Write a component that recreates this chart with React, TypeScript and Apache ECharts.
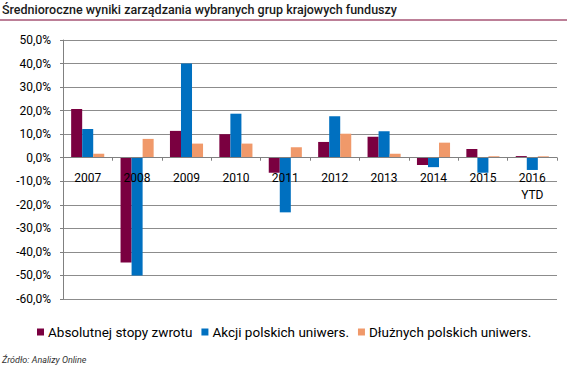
import React, { useEffect, useRef } from "react";
import * as echarts from "echarts";

const categories = ["2007", "2008", "2009", "2010", "2011", "2012", "2013", "2014", "2015", "2016\nYTD"];
const absolutnej = [20.7, -44.5, 11.4, 10.0, -6.4, 6.7, 8.9, -3.1, 3.7, 0.7];
const akcji = [12.2, -50.0, 40.0, 18.7, -23.2, 17.6, 11.2, -4.0, -6.4, -5.2];
const dluznych = [1.7, 8.0, 6.0, 6.0, 4.5, 10.2, 1.7, 6.4, 0.6, 0.6];
const seriesNames = ["Absolutnej stopy zwrotu", "Akcji polskich uniwers.", "Dłużnych polskich uniwers."];
const colors = ["#7a0040", "#0070c0", "#f0996a"];
const Y_MIN = -60;
const Y_MAX = 50;

const FONT = "Roboto";
const GRID_TOP = 40;
const GRID_BOTTOM = 67;
const H = 366;

export default function App() {
  const ref = useRef<HTMLDivElement>(null);
  useEffect(() => {
    const chart = echarts.init(ref.current!, null, { renderer: "svg" });
    const data = [absolutnej, akcji, dluznych];
    const gridH = H - GRID_TOP - GRID_BOTTOM;
    const zeroOffset = -gridH * (0 - Y_MIN) / (Y_MAX - Y_MIN);
    chart.setOption({
      animation: false,
      textStyle: { fontFamily: FONT },
      graphic: [
        {
          type: "text",
          left: 2,
          top: 3,
          style: {
            text: "Średnioroczne wyniki zarządzania wybranych grup krajowych funduszy",
            fontFamily: FONT,
            fontSize: 12.5,
            fontWeight: 500,
            fill: "#1a1a1a",
          },
        },
        {
          type: "line",
          shape: { x1: 0, y1: 20, x2: 567, y2: 20 },
          style: { stroke: "#7a0030", lineWidth: 1 },
        },
        {
          type: "text",
          left: 2,
          top: 355,
          style: {
            text: "Źródło: Analizy Online",
            fontFamily: FONT,
            fontSize: 9,
            fontStyle: "italic",
            fill: "#333",
          },
        },
      ],
      legend: {
        left: 32,
        top: 320,
        itemWidth: 7,
        itemHeight: 7,
        itemGap: 9,
        icon: "rect",
        textStyle: { fontFamily: FONT, fontSize: 13.5, color: "#000", padding: [0, 0, 0, -1] },
        data: seriesNames,
      },
      grid: { left: 63, right: 10, top: GRID_TOP, bottom: GRID_BOTTOM, containLabel: false },
      xAxis: {
        type: "category",
        data: categories,
        position: "bottom",
        offset: zeroOffset,
        z: 10,
        axisLine: { onZero: false, lineStyle: { color: "#808080", width: 1 } },
        axisTick: { show: true, length: 3, interval: 0, lineStyle: { color: "#808080" } },
        axisLabel: { interval: 0, margin: 12, fontFamily: FONT, fontSize: 12, color: "#000", lineHeight: 17 },
      },
      yAxis: {
        type: "value",
        min: Y_MIN,
        max: Y_MAX,
        interval: 10,
        axisLine: { show: true, lineStyle: { color: "#808080" } },
        axisTick: { show: true, length: 3, lineStyle: { color: "#808080" } },
        splitLine: { show: true, lineStyle: { color: "#8c8c8c", width: 1 } },
        axisLabel: {
          margin: 12,
          fontFamily: FONT,
          fontSize: 12,
          color: "#000",
          formatter: (v: number) => v.toFixed(1).replace(".", ",") + "%",
        },
      },
      series: seriesNames.map((name, i) => ({
        name,
        type: "bar",
        data: data[i],
        barGap: "0%",
        barCategoryGap: "33%",
        itemStyle: { color: colors[i] },
      })),
    });
    return () => chart.dispose();
  }, []);
  return <div ref={ref} style={{ position: "fixed", left: 0, top: 0, width: 567, height: 366, background: "#fff" }} />;
}
